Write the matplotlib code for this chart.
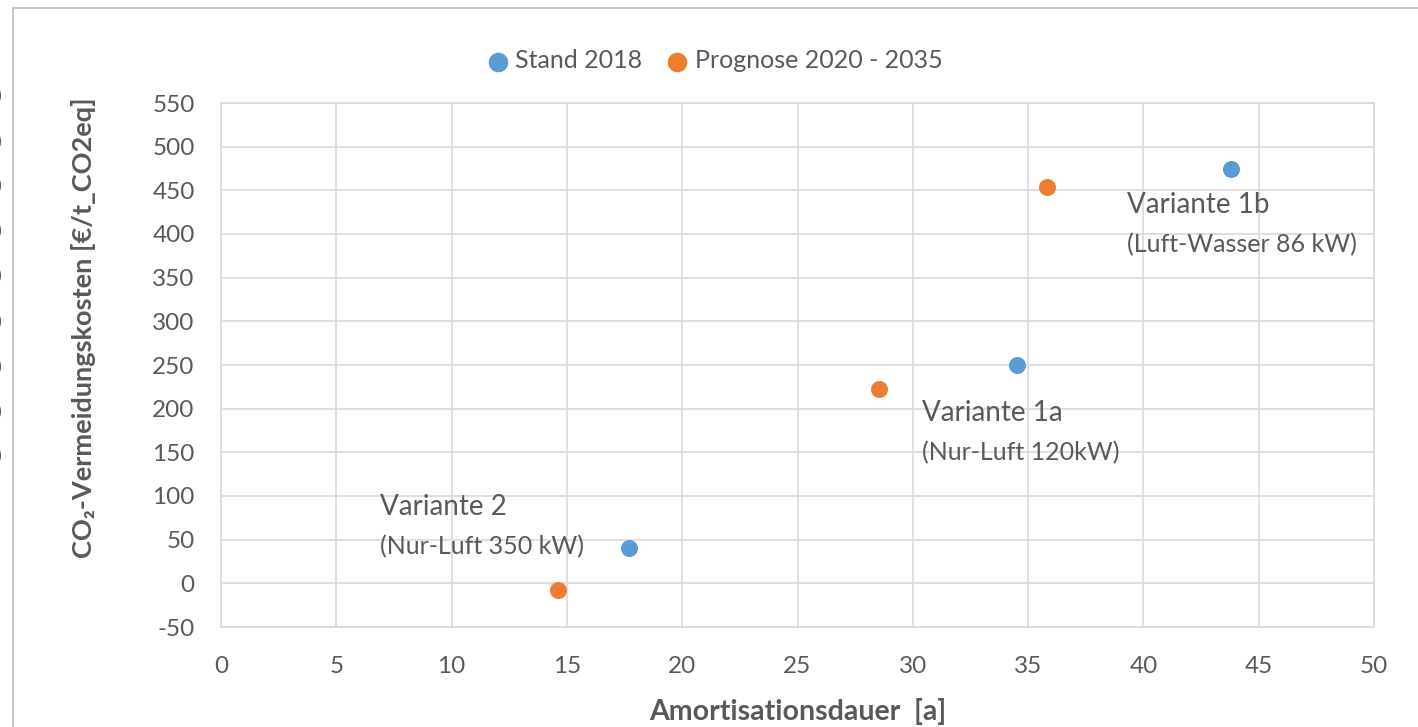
import matplotlib.pyplot as plt
from matplotlib.lines import Line2D

plt.rcParams['font.family'] = ['Lato', 'DejaVu Sans']
plt.rcParams['axes.unicode_minus'] = False

# Amortisationsdauer [a] und CO2-Vermeidungskosten [€/t]
stand_x = [17.7, 34.5, 43.8]
stand_y = [40, 250, 474]
prognose_x = [14.6, 28.55, 35.8]
prognose_y = [-8, 222, 454]

labels = ['Variante 2', 'Variante 1a', 'Variante 1b']
sublabels = ['(Nur-Luft 350 kW)', '(Nur-Luft 120kW)', '(Luft-Wasser 86 kW)']
label_pos = [(6.9, 87, 42), (30.4, 195, 150), (39.3, 433, 388)]

blue = '#5B9BD5'
orange = '#ED7D31'
grey = '#595959'
gridc = '#d9d9d9'

W, H = 1418, 727
fig = plt.figure(figsize=(W / 100, H / 100), dpi=100)
ax = fig.add_axes([221 / W, 1 - 627 / H, (1374 - 221) / W, (627 - 103) / H])

ax.scatter(stand_x, stand_y, s=150, color=blue, zorder=3, label='Stand 2018', linewidths=0)
ax.scatter(prognose_x, prognose_y, s=150, color=orange, zorder=3,
           label='Prognose 2020 - 2035', linewidths=0)

for name, sub, (lx, ly, sy) in zip(labels, sublabels, label_pos):
    ax.text(lx, ly, name, fontsize=20, color=grey, va='center', ha='left')
    ax.text(lx, sy, sub, fontsize=18, color=grey, va='center', ha='left')

ax.set_xlim(0, 50)
ax.set_ylim(-50, 550)
ax.set_xticks(range(0, 51, 5))
ax.set_yticks(range(-50, 551, 50))
ax.grid(True, color=gridc, linewidth=1.2)
ax.set_axisbelow(True)
for sp in ax.spines.values():
    sp.set_color(gridc)
    sp.set_linewidth(1.2)
ax.tick_params(length=0, labelsize=17.5, labelcolor=grey)
ax.tick_params(axis='y', pad=19)
ax.tick_params(axis='x', pad=21)

ax.set_xlabel('Amortisationsdauer  [a]', fontsize=20.5, fontweight='bold', color=grey)
ax.xaxis.set_label_coords(0.5, -0.135)
ax.set_ylabel('CO₂-Vermeidungskosten [€/t_CO2eq]', fontsize=19.5, fontweight='bold', color=grey)
ax.yaxis.set_label_coords(-0.108, 0.571)

handles, names = ax.get_legend_handles_labels()
fig.legend(handles, names, loc='center', bbox_to_anchor=(0.499, 1 - 61 / H), ncol=2,
           frameon=False, fontsize=18, labelcolor=grey, handletextpad=-0.3,
           columnspacing=0.4, borderaxespad=0, markerscale=1.15)

# chart frame
fc = '#bfbfbf'
fig.add_artist(Line2D([13 / W, 13 / W], [0, 1 - 8 / H], color=fc, linewidth=1.2))
fig.add_artist(Line2D([13 / W, 1], [1 - 8 / H, 1 - 8 / H], color=fc, linewidth=1.2))

# edge of the neighbouring chart's tick labels
for py in [98, 143, 188, 233, 278, 323, 368, 413, 457]:
    fig.text(1 / W, 1 - py / H, '0', fontsize=17, color=grey, ha='right', va='center')

fig.savefig('out.png', dpi=100)
